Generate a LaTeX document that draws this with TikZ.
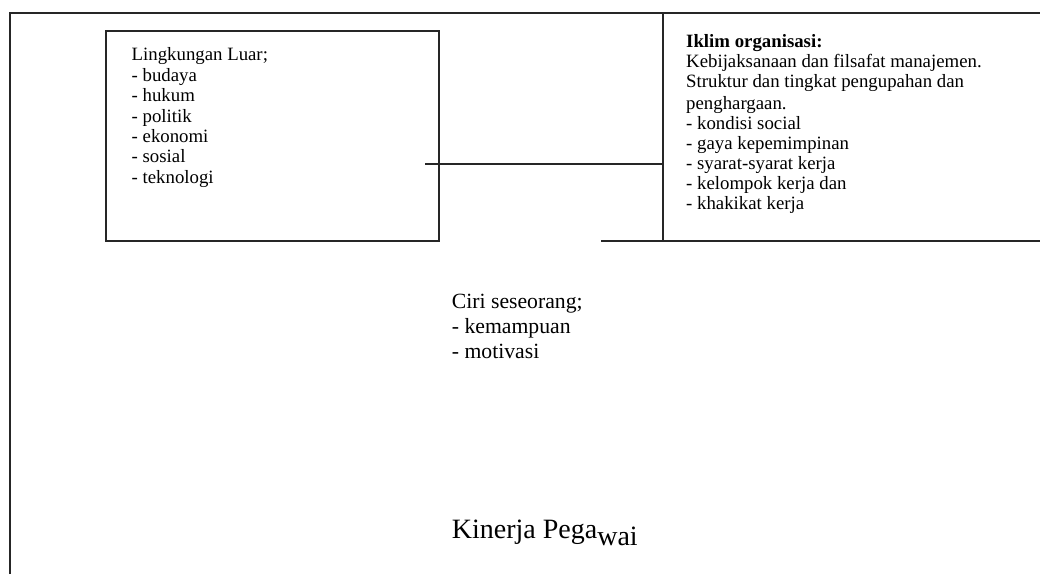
\documentclass[tikz,border=0pt]{standalone}
\usepackage{fontspec}
\setmainfont{Liberation Serif}
\begin{document}
\begin{tikzpicture}[x=1pt,y=-1pt,
  frame/.style={line width=2.2pt,black!85},
  boxline/.style={draw,line width=2.2pt,black!85,inner sep=0pt,rectangle},
  smalltxt/.style={anchor=base west,inner sep=0pt,align=left,font=\fontsize{18.8}{20.4}\selectfont},
  righttxt/.style={anchor=base west,inner sep=0pt,align=left,font=\fontsize{18.8}{20}\selectfont},
  midtxt/.style={anchor=base west,inner sep=0pt,align=left,font=\fontsize{21.7}{25}\selectfont},
  bigtxt/.style={anchor=base west,inner sep=0pt,font=\fontsize{28}{32}\selectfont}]
\useasboundingbox (0,0) rectangle (1040,574);
% outer frame
\coordinate (fbl) at (10.3,574);
\coordinate (ftl) at (10.3,13.3);
\coordinate (ftr) at (1040,13.3);
\draw[frame] (fbl) -- (ftl) -- (ftr);
% left box
\node[boxline,minimum width=333pt,minimum height=210pt] (luar) at (272.7,135.7) {};
% (base anchor = baseline of last line)
\node[smalltxt] (luartxt) at (131.5,183.2) {Lingkungan Luar;\\- budaya\\- hukum\\- politik\\- ekonomi\\- sosial\\- teknologi};
% right box lines
\coordinate (vtop) at (662.7,13.3);
\coordinate (vbot) at (662.7,240.7);
\coordinate (bl) at (601,240.7);
\coordinate (br) at (1040,240.7);
\draw[frame] (vtop) -- (vbot);
\draw[frame] (bl) -- (br);
% connector
\coordinate (cstart) at (425,164);
\draw[frame] (cstart) -- (cstart -| vtop);
\node[righttxt] (iklim) at (686,209.8) {\textbf{Iklim organisasi:}\\Kebijaksanaan dan filsafat manajemen.\\Struktur dan tingkat pengupahan dan\\[2.5pt]penghargaan.\\- kondisi social\\- gaya kepemimpinan\\- syarat-syarat kerja\\- kelompok kerja dan\\- khakikat kerja};
% ciri
\node[midtxt] (ciri) at (451.7,358.3) {Ciri seseorang;\\- kemampuan\\- motivasi};
% kinerja
\node[bigtxt] (kinerja) at (451.7,538.3) {Kinerja Pega\raisebox{-7.5pt}{wai}};
\end{tikzpicture}
\end{document}
